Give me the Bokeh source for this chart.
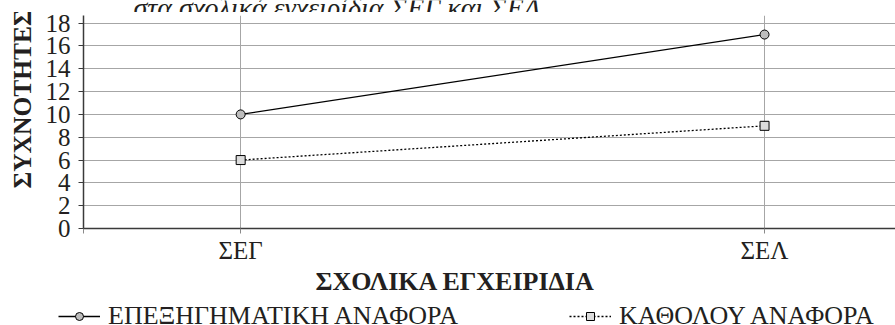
from bokeh.plotting import figure
from bokeh.layouts import column, row
from bokeh.models import Range1d, FixedTicker, Legend, LegendItem, Title, Label, Plot
from bokeh.embed import file_html
from bokeh.resources import INLINE

# Textbook categories and frequency counts per reference type
categories = ["ΣΕΓ", "ΣΕΛ"]
explanatory = [10, 17]   # ΕΠΕΞΗΓΗΜΑΤΙΚΗ ΑΝΑΦΟΡΑ
no_reference = [6, 9]    # ΚΑΘΟΛΟΥ ΑΝΑΦΟΡΑ
y_ticks = [0, 2, 4, 6, 8, 10, 12, 14, 16, 18]

FONT = "'Liberation Serif', 'DejaVu Serif', serif"
INK = "#231f20"
GRID = "#a6a6a6"
AXIS = "#3a3a3a"

xs = list(range(len(categories)))
x_start, x_end = -0.30, 1.25
W = 895

# heading strip (its text runs off the top edge)
head = Plot(width=W, height=12, output_backend="svg", toolbar_location=None,
            x_range=Range1d(0, 1), y_range=Range1d(0, 1), min_border=0,
            outline_line_color=None)
head.add_layout(Label(x=133, y=7, x_units="canvas", y_units="canvas",
                      text="στα σχολικά εγχειρίδια ΣΕΓ και ΣΕΛ", text_font=FONT,
                      text_font_style="italic", text_font_size="28px", text_color=INK,
                      text_baseline="alphabetic"))

p = figure(width=W, height=286, output_backend="svg", toolbar_location=None,
           x_range=Range1d(x_start, x_end), y_range=Range1d(0, 18.67),
           min_border_left=83, min_border_right=0, min_border_top=3,
           min_border_bottom=70)
p.outline_line_color = None

# grids
p.ygrid.ticker = FixedTicker(ticks=y_ticks)
p.ygrid.grid_line_color = GRID
p.xgrid.ticker = FixedTicker(ticks=xs)
p.xgrid.grid_line_color = GRID

# axes
p.yaxis.ticker = FixedTicker(ticks=y_ticks)
p.yaxis.axis_line_color = AXIS
p.yaxis.axis_line_width = 1.5
p.yaxis.major_tick_line_color = AXIS
p.yaxis.major_tick_out = 5
p.yaxis.major_tick_in = 0
p.yaxis.minor_tick_line_color = None
p.yaxis.major_label_text_font = FONT
p.yaxis.major_label_text_font_size = "25px"
p.yaxis.major_label_text_color = INK
p.yaxis.major_label_standoff = 8

p.xaxis.ticker = FixedTicker(ticks=[x_start] + xs)
p.xaxis.major_label_overrides = {x_start: ""} | {i: c for i, c in enumerate(categories)}
p.xaxis.axis_line_color = AXIS
p.xaxis.axis_line_width = 1.5
p.xaxis.major_tick_line_color = "#8a8a8a"
p.xaxis.major_tick_out = 5
p.xaxis.major_tick_in = 0
p.xaxis.minor_tick_line_color = None
p.xaxis.major_label_text_font = FONT
p.xaxis.major_label_text_font_size = "25px"
p.xaxis.major_label_text_color = INK
p.xaxis.major_label_standoff = 3

# axis titles
p.add_layout(Title(text="ΣΧΟΛΙΚΑ ΕΓΧΕΙΡΙΔΙΑ", text_font=FONT, text_font_style="bold",
                   text_font_size="26px", text_color=INK, align="left", offset=232,
                   standoff=-4), "below")
p.add_layout(Title(text="ΣΥΧΝΟΤΗΤΕΣ", text_font=FONT, text_font_style="bold",
                   text_font_size="25.5px", text_color=INK, align="left", offset=40,
                   standoff=8, vertical_align="top"), "left")

# series
LINE1 = dict(line_color="black", line_width=1.3)
MARK1 = dict(marker="circle", size=9, fill_color="#bdbdbd", line_color="black", line_width=1)
LINE2 = dict(line_color="black", line_width=1.3, line_dash="2 2")
MARK2 = dict(marker="square", size=9, fill_color="#dcdcdc", line_color="black", line_width=1)

r1 = [p.line(xs, explanatory, **LINE1), p.scatter(xs, explanatory, **MARK1)]
r2 = [p.line(xs, no_reference, **LINE2), p.scatter(xs, no_reference, **MARK2)]

# legend strip underneath the chart; its series sit outside the strip's view,
# only their legend keys are shown
lg = Plot(width=W, height=27, output_backend="svg", toolbar_location=None,
          x_range=Range1d(x_start, x_end), y_range=Range1d(100, 101), min_border=0,
          outline_line_color=None)
k1 = [lg.add_glyph(r.data_source, r.glyph.clone()) for r in r1]
k2 = [lg.add_glyph(r.data_source, r.glyph.clone()) for r in r2]


def add_key(label, renderers, loc):
    key = Legend(items=[LegendItem(label=label, renderers=renderers)],
                 location=loc, orientation="horizontal",
                 glyph_width=42, glyph_height=20, label_height=20,
                 label_standoff=8, padding=0, margin=0, spacing=0,
                 border_line_color=None, background_fill_alpha=0,
                 label_text_font=FONT, label_text_font_size="26px",
                 label_text_color=INK)
    lg.add_layout(key, "center")


add_key("ΕΠΕΞΗΓΗΜΑΤΙΚΗ ΑΝΑΦΟΡΑ", k1, (58, -6))
add_key("ΚΑΘΟΛΟΥ ΑΝΑΦΟΡΑ", k2, (569, -6))

page = column(head, row(p), lg, spacing=0)
open("out.html", "w").write(file_html(page, INLINE))
